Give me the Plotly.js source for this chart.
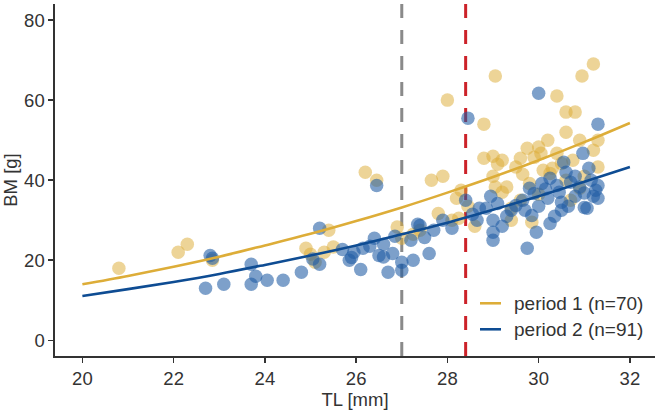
<!DOCTYPE html>
<html>
<head>
<meta charset="utf-8">
<script src="https://cdn.plot.ly/plotly-3.0.1.min.js"></script>
<style>
  html, body { margin: 0; padding: 0; background: #ffffff; }
  #chart { width: 661px; height: 410px; }
</style>
</head>
<body>
<div id="chart"></div>
<script>
// Period 1: total length (mm) and body mass (g)
const p1TL = [20.8, 22.1, 22.3, 22.85, 24.9, 25.0, 25.1, 25.4, 25.5, 26.2,
  26.45, 26.9, 27.0, 27.25, 27.65, 27.9, 28.0, 27.8, 28.1, 28.2,
  28.25, 28.3, 28.8, 28.8, 29.0, 29.0, 29.05, 29.1, 29.05, 29.2,
  29.5, 29.3, 29.8, 29.75, 29.9, 30.0, 30.05, 30.2, 30.4, 30.4,
  30.6, 30.8, 30.6, 30.5, 30.25, 30.6, 30.75, 31.3, 30.95, 31.2,
  29.4, 29.4, 29.6, 30.0, 30.9, 31.2, 28.45, 29.65, 30.3, 27.4,
  28.6, 30.7, 29.6, 31.0, 30.1, 29.2, 30.9, 29.85, 25.3, 31.3];
const p1BM = [18, 22, 24, 20, 23, 21.5, 19.5, 27.5, 23.3, 42,
  40, 28.3, 25.5, 26.5, 40, 41, 60, 31.7, 30, 35.5,
  30.5, 37.5, 54, 45.5, 46, 41, 38.3, 44, 66, 45,
  43.3, 38.3, 39.2, 48, 45.7, 48.3, 46.7, 50, 46.7, 61,
  57, 57, 52, 44.2, 41.7, 40, 45, 43.3, 66, 69,
  30, 33, 35, 36.5, 38, 47.5, 33.5, 41.5, 43, 27.5,
  28.5, 35, 45.5, 41, 42.5, 37, 50, 29.5, 22, 50];

// Period 2: total length (mm) and body mass (g)
const p2TL = [22.7, 22.8, 22.85, 23.1, 23.7, 23.7, 23.8, 24.05, 24.4, 24.8,
  25.05, 25.2, 25.2, 25.7, 25.85, 26.1, 25.9, 26.15, 26.4, 26.5,
  26.45, 26.6, 26.6, 26.7, 26.8, 26.85, 27.0, 27.0, 27.2, 27.25,
  27.35, 27.5, 27.6, 27.4, 27.9, 28.45, 28.4, 28.65, 28.7, 28.85,
  29.0, 29.0, 29.0, 29.1, 29.4, 29.5, 29.7, 29.75, 29.85, 29.9,
  29.95, 30.0, 30.07, 30.2, 30.25, 30.35, 30.4, 30.5, 30.5, 30.6,
  30.65, 30.7, 30.9, 30.97, 31.0, 31.06, 31.1, 31.3, 31.3, 31.15,
  31.2, 31.25, 30.8, 30.45, 30.15, 29.65, 29.3, 28.95, 28.55, 27.7,
  26.3, 25.95, 30.8, 31.3, 30.0, 29.2, 28.1, 30.55, 29.8, 31.0,
  30.25];
const p2BM = [13, 21.2, 20.5, 14, 14, 19, 16, 15, 15, 17,
  20.3, 19, 28, 22.7, 20, 17.7, 20.7, 23, 25.5, 21.2,
  38.7, 24, 20.8, 17, 21.7, 26, 19.5, 17.5, 25, 20,
  29, 25.7, 21.7, 28.7, 30, 55.5, 35, 30, 33, 33,
  27, 25, 30, 34.2, 32.5, 33.7, 32.5, 23, 31.2, 36.7,
  27, 61.7, 39.2, 35.5, 29.2, 31, 38.7, 34.5, 32.5, 42,
  33.5, 39.5, 38.3, 46.7, 33.2, 33, 43, 38.7, 54, 40,
  36, 37.5, 36, 37, 37.8, 35, 31, 36, 31.5, 27.5,
  23.5, 22, 41, 35.5, 33.5, 28.5, 28, 44.5, 38, 36.8,
  40.5];

// Fitted length-mass curves
const fitTL  = [20, 21, 22, 23, 24, 25, 26, 27, 28, 29, 30, 31, 32];
const fit1BM = [14.0, 16.1, 18.4, 20.9, 23.7, 26.6, 29.8, 33.2, 36.9, 40.8, 45.0, 49.5, 54.3];
const fit2BM = [11.1, 12.8, 14.6, 16.6, 18.85, 21.2, 23.7, 26.5, 29.4, 32.6, 36.0, 39.6, 43.3];

// Reference lengths (dashed verticals)
const refTL = [27.0, 28.4];

const seriesLabels = ['period 1 (n=70)', 'period 2 (n=91)'];
const xTicks = [20, 22, 24, 26, 28, 30, 32];
const yTicks = [0, 20, 40, 60, 80];

const gold = '#DDAD38';
const navy = '#0E4C93';
const dotBlue = '#1F5CA3';
const ink = '#333333';
const font = 'Liberation Sans, Arial, sans-serif';

const traces = [
  { x: p1TL, y: p1BM, type: 'scatter', mode: 'markers', showlegend: false,
    marker: { size: 13.5, color: gold, opacity: 0.52, line: { width: 0 } } },
  { x: p2TL, y: p2BM, type: 'scatter', mode: 'markers', showlegend: false,
    marker: { size: 13.5, color: dotBlue, opacity: 0.58, line: { width: 0 } } },
  { x: fitTL, y: fit1BM, type: 'scatter', mode: 'lines', showlegend: false,
    line: { color: gold, width: 2.6, shape: 'spline' } },
  { x: fitTL, y: fit2BM, type: 'scatter', mode: 'lines', showlegend: false,
    line: { color: navy, width: 2.6, shape: 'spline' } }
];

const shapes = [
  { type: 'line', xref: 'x', yref: 'paper', x0: refTL[0], x1: refTL[0], y0: 0, y1: 1,
    layer: 'below', line: { color: '#8A8A8A', width: 3, dash: '14px,12px' } },
  { type: 'line', xref: 'x', yref: 'paper', x0: refTL[1], x1: refTL[1], y0: 0, y1: 1,
    layer: 'below', line: { color: '#CC2229', width: 3, dash: '14px,12px' } },
  // legend keys
  { type: 'line', xref: 'paper', yref: 'paper', x0: 0.7083, x1: 0.7433, y0: 0.1498, y1: 0.1498,
    line: { color: gold, width: 2.6 } },
  { type: 'line', xref: 'paper', yref: 'paper', x0: 0.7083, x1: 0.7433, y0: 0.0759, y1: 0.0759,
    line: { color: navy, width: 2.6 } }
];

const annotations = seriesLabels.map((t, i) => ({
  text: t, xref: 'paper', yref: 'paper', x: 0.7617, y: [0.1498, 0.0759][i],
  xanchor: 'left', yanchor: 'middle', showarrow: false,
  font: { family: font, size: 19, color: ink }
}));

const axisCommon = {
  showline: true, linecolor: ink, linewidth: 1.6, mirror: false,
  ticks: 'outside', ticklen: 5, tickwidth: 1.6, tickcolor: ink,
  showgrid: false, zeroline: false,
  tickfont: { family: font, size: 18.5, color: ink }
};

const layout = {
  width: 661, height: 410,
  margin: { l: 55, r: 6, t: 4, b: 54.3 },
  paper_bgcolor: '#ffffff', plot_bgcolor: '#ffffff',
  showlegend: false,
  xaxis: Object.assign({}, axisCommon, {
    range: [19.4, 32.55], tickvals: xTicks, ticktext: xTicks.map(String),
    title: { text: 'TL [mm]', font: { family: font, size: 18.5, color: ink }, standoff: 0 }
  }),
  yaxis: Object.assign({}, axisCommon, {
    range: [-3.9, 84], tickvals: yTicks, ticktext: yTicks.map(String),
    title: { text: 'BM [g]', font: { family: font, size: 18.5, color: ink }, standoff: 4 }
  }),
  shapes: shapes,
  annotations: annotations
};

Plotly.newPlot('chart', traces, layout, { displayModeBar: false, staticPlot: true });
</script>
</body>
</html>
